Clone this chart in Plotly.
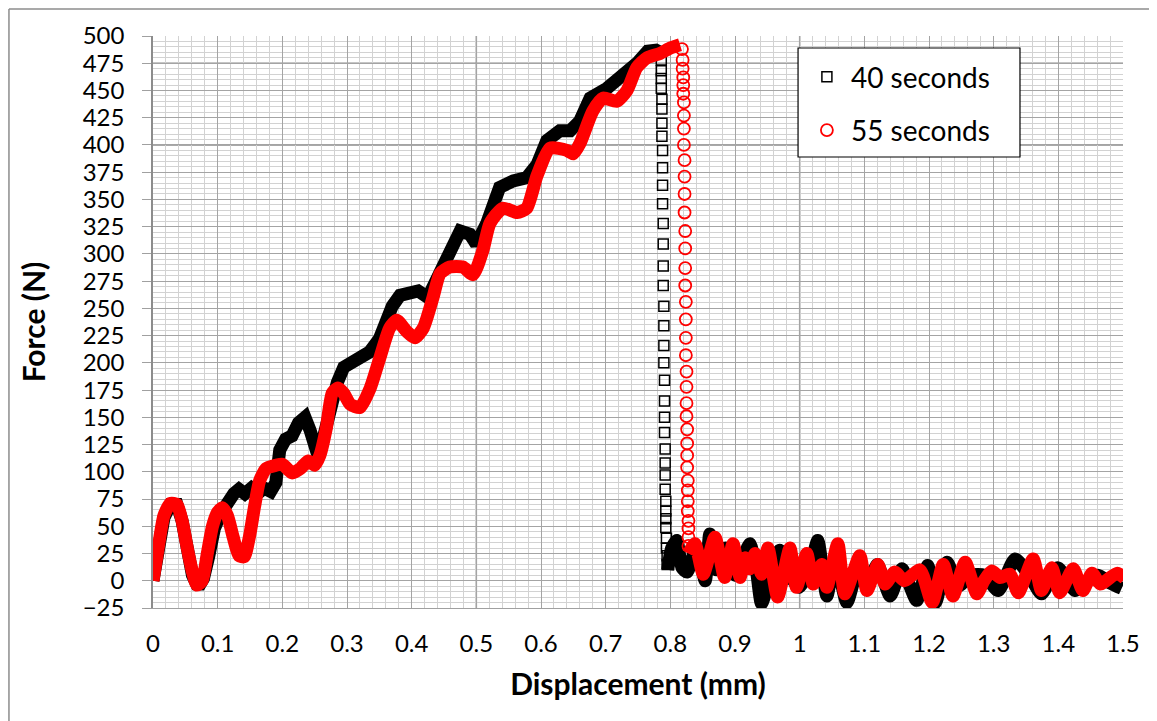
import plotly.graph_objects as go

# ---------------- data ----------------
# 55 seconds (red circles)
red_rise_x = [0, 0.008, 0.017, 0.027, 0.037, 0.045, 0.053, 0.061, 0.068, 0.076, 0.084, 0.092, 0.1, 0.107,
              0.115, 0.124, 0.133, 0.141, 0.149, 0.157, 0.165, 0.175, 0.19, 0.2, 0.215, 0.228, 0.24, 0.25,
              0.258, 0.268, 0.277, 0.286, 0.295, 0.305, 0.32, 0.336, 0.351, 0.366, 0.377, 0.392, 0.405,
              0.418, 0.433, 0.444, 0.459, 0.479, 0.495, 0.51, 0.521, 0.541, 0.563, 0.578, 0.594, 0.614,
              0.64, 0.65, 0.66, 0.68, 0.696, 0.717, 0.733, 0.748, 0.764, 0.784, 0.8, 0.815]
red_rise_y = [0, 30, 60, 71, 70, 55, 30, 8, -4, 0, 25, 50, 63, 67, 60, 40, 23, 22, 40, 68, 92, 103, 106,
              107, 99, 103, 110, 106, 115, 140, 172, 177, 172, 162, 159, 177, 205, 232, 239, 229, 223, 232,
              260, 282, 288, 288, 281, 303, 328, 342, 338, 342, 372, 397, 395, 392, 401, 431, 443, 440, 450,
              471, 480, 484, 489, 492]
red_drop_x = [0.818, 0.819, 0.819, 0.82, 0.82, 0.82, 0.821, 0.821, 0.821, 0.821, 0.822, 0.822, 0.822,
              0.822, 0.823, 0.823, 0.823, 0.823, 0.824, 0.824, 0.824, 0.824, 0.825, 0.825, 0.825, 0.825,
              0.826, 0.826, 0.826, 0.826, 0.827, 0.827, 0.827, 0.827, 0.828, 0.828, 0.828, 0.828]
red_drop_y = [488, 478, 470, 462, 455, 447, 439, 427, 415, 400, 386, 371, 355, 338, 321, 305, 287, 271,
              256, 240, 223, 207, 192, 178, 163, 151, 139, 126, 115, 104, 92, 83, 73, 64, 55, 48, 40, 32]
red_tail_x = [0.828, 0.838, 0.851, 0.869, 0.884, 0.897, 0.908, 0.915, 0.923, 0.931, 0.941, 0.951, 0.966,
              0.985, 0.995, 1.011, 1.021, 1.034, 1.042, 1.059, 1.07, 1.093, 1.104, 1.121, 1.132, 1.147,
              1.162, 1.186, 1.205, 1.222, 1.237, 1.256, 1.274, 1.285, 1.297, 1.31, 1.325, 1.338, 1.361,
              1.374, 1.39, 1.402, 1.423, 1.438, 1.452, 1.465, 1.491, 1.503]
red_tail_y = [25, 34, 6, 40, 3, 34, 3, 21, 11, 25, 6, 30, -15, 30, -6, 25, -3, 15, -6, 34, -12, 23, -9,
              15, -3, 8, 0, 10, -20, 15, -14, 17, -12, 0, 9, 3, 6, -11, 20, -9, 12, -11, 11, -9, 7, -3, 7, 2]

# 40 seconds (black squares)
blk_rise_x = [0, 0.008, 0.017, 0.027, 0.037, 0.045, 0.053, 0.061, 0.07, 0.078, 0.086, 0.095, 0.105,
              0.115, 0.125, 0.133, 0.142, 0.152, 0.162, 0.172, 0.182, 0.19, 0.196, 0.205, 0.215, 0.225,
              0.235, 0.243, 0.25, 0.256, 0.265, 0.275, 0.285, 0.295, 0.305, 0.318, 0.335, 0.35, 0.36,
              0.37, 0.382, 0.395, 0.41, 0.425, 0.44, 0.455, 0.475, 0.49, 0.5, 0.516, 0.536, 0.557, 0.578,
              0.594, 0.609, 0.629, 0.645, 0.66, 0.676, 0.702, 0.717, 0.733, 0.75, 0.765, 0.778, 0.788]
blk_rise_y = [0, 30, 58, 70, 70, 55, 30, 5, -6, 2, 22, 48, 62, 72, 80, 84, 80, 85, 80, 85, 82, 90, 120,
              130, 133, 145, 150, 138, 118, 113, 135, 160, 182, 196, 199, 203, 210, 222, 240, 252, 262,
              265, 266, 260, 280, 297, 321, 318, 309, 328, 361, 367, 370, 382, 404, 413, 413, 422, 443,
              452, 459, 466, 476, 486, 487, 484]
blk_drop_x = [0.786, 0.786, 0.786, 0.786, 0.787, 0.787, 0.787, 0.787, 0.788, 0.788, 0.788, 0.788, 0.789,
              0.789, 0.789, 0.789, 0.79, 0.79, 0.79, 0.79, 0.791, 0.791, 0.791, 0.791, 0.792, 0.792,
              0.792, 0.792, 0.793, 0.793, 0.793, 0.793, 0.794, 0.794, 0.795, 0.795]
blk_drop_y = [478, 468, 461, 452, 442, 433, 420, 408, 395, 379, 363, 346, 328, 309, 289, 271, 252, 234,
              216, 200, 184, 165, 150, 136, 121, 108, 97, 84, 73, 64, 57, 49, 39, 30, 23, 15]
blk_tail_x = [0.796, 0.802, 0.81, 0.818, 0.826, 0.84, 0.854, 0.861, 0.872, 0.885, 0.9, 0.912, 0.923,
              0.933, 0.941, 0.955, 0.969, 0.985, 0.999, 1.015, 1.028, 1.042, 1.055, 1.073, 1.09, 1.105,
              1.12, 1.14, 1.158, 1.181, 1.198, 1.21, 1.228, 1.245, 1.265, 1.285, 1.307, 1.333, 1.355,
              1.374, 1.399, 1.426, 1.445, 1.461, 1.48, 1.498]
blk_tail_y = [10, 30, 37, 12, 8, 30, 0, 43, 10, 30, 5, 20, 34, 10, -21, 5, 28, 5, -6, 10, 37, -14, 20,
              -20, 10, -5, 15, -14, 11, -18, 14, -20, 17, -5, 5, 5, -9, 20, 5, -12, 12, -9, 0, 5, -2, -7]

x_ticks = [0, 0.1, 0.2, 0.3, 0.4, 0.5, 0.6, 0.7, 0.8, 0.9, 1, 1.1, 1.2, 1.3, 1.4, 1.5]
x_tick_text = ["0", "0.1", "0.2", "0.3", "0.4", "0.5", "0.6", "0.7", "0.8", "0.9", "1", "1.1", "1.2",
               "1.3", "1.4", "1.5"]
y_ticks = list(range(-25, 501, 25))

series_names = ["40 seconds", "55 seconds"]

# ---------------- figure ----------------
FONT = "Lato"
BAND = 13
fig = go.Figure()

# black (40 s)
fig.add_trace(go.Scatter(x=blk_rise_x, y=blk_rise_y, mode="lines", showlegend=False,
                         line=dict(color="black", width=BAND), hoverinfo="skip"))
fig.add_trace(go.Scatter(x=blk_tail_x, y=blk_tail_y, mode="lines", showlegend=False,
                         line=dict(color="black", width=BAND, shape="spline", smoothing=0.6),
                         hoverinfo="skip"))
fig.add_trace(go.Scatter(x=blk_drop_x, y=blk_drop_y, mode="markers", name=series_names[0],
                         legendgroup="a",
                         marker=dict(symbol="square-open", size=10, color="black",
                                     line=dict(width=1.5, color="black"))))
# red (55 s)
fig.add_trace(go.Scatter(x=red_rise_x, y=red_rise_y, mode="lines", showlegend=False,
                         line=dict(color="#ff0000", width=BAND, shape="spline", smoothing=0.6),
                         hoverinfo="skip"))
fig.add_trace(go.Scatter(x=red_tail_x, y=red_tail_y, mode="lines", showlegend=False,
                         line=dict(color="#ff0000", width=BAND, shape="spline", smoothing=0.6),
                         hoverinfo="skip"))
fig.add_trace(go.Scatter(x=red_drop_x, y=red_drop_y, mode="markers", name=series_names[1],
                         legendgroup="b",
                         marker=dict(symbol="circle-open", size=12, color="#ff0000",
                                     line=dict(width=1.8, color="#ff0000"))))

shapes = []
for xv in [0.5, 1.0]:
    shapes.append(dict(type="line", xref="x", yref="y", x0=xv, x1=xv, y0=-25, y1=500,
                       line=dict(color="#8c8c8c", width=1.5), layer="below"))
for yv in [400, 475]:
    shapes.append(dict(type="line", xref="x", yref="y", x0=0, x1=1.5, y0=yv, y1=yv,
                       line=dict(color="#8c8c8c", width=1.5), layer="below"))
# legend frame
shapes.append(dict(type="rect", xref="paper", yref="paper", x0=0.665, x1=0.8938, y0=0.7885, y1=0.979,
                   fillcolor="white", line=dict(color="black", width=1.2), layer="above"))
# outer chart frame (top and left edges visible in the reference)
shapes.append(dict(type="line", xref="paper", yref="paper", x0=-0.1485, x1=1.05, y0=1.0472, y1=1.0472,
                   line=dict(color="#8c8c8c", width=1.5)))
shapes.append(dict(type="line", xref="paper", yref="paper", x0=-0.1485, x1=-0.1485, y0=-0.21, y1=1.0472,
                   line=dict(color="#8c8c8c", width=1.5)))

fig.update_layout(
    width=1149, height=713,
    margin=dict(l=145, r=34, t=28, b=113, pad=0),
    paper_bgcolor="white", plot_bgcolor="white",
    font=dict(family=FONT, color="black", size=24),
    shapes=shapes,
    legend=dict(x=0.67, y=0.972, xanchor="left", yanchor="top",
                bgcolor="rgba(0,0,0,0)", borderwidth=0,
                font=dict(size=28, family=FONT), tracegroupgap=14,
                traceorder="grouped", itemwidth=38),
    xaxis=dict(range=[0, 1.5], tickvals=x_ticks, ticktext=x_tick_text,
               showgrid=True, gridcolor="#a4a4a4", gridwidth=1,
               minor=dict(dtick=0.02, showgrid=True, gridcolor="#d2d2d2", gridwidth=1),
               zeroline=False, showline=True, linecolor="#a0a0a0", linewidth=1,
               ticks="", ticklabelstandoff=14,
               tickfont=dict(size=24, family=FONT),
               title=dict(text="<b>Displacement (mm)</b>", font=dict(size=30, family=FONT),
                          standoff=18)),
    yaxis=dict(range=[-25, 500], tickvals=y_ticks,
               showgrid=True, gridcolor="#a4a4a4", gridwidth=1,
               minor=dict(dtick=5, showgrid=True, gridcolor="#d2d2d2", gridwidth=1),
               zeroline=False, showline=True, linecolor="#8c8c8c", linewidth=1.5,
               ticks="outside", ticklen=9, tickcolor="#a0a0a0",
               ticklabelstandoff=13,
               tickfont=dict(size=24, family=FONT),
               title=dict(text="<b>Force (N)</b>", font=dict(size=30, family=FONT), standoff=28)),
)

fig.write_html("out.html")
